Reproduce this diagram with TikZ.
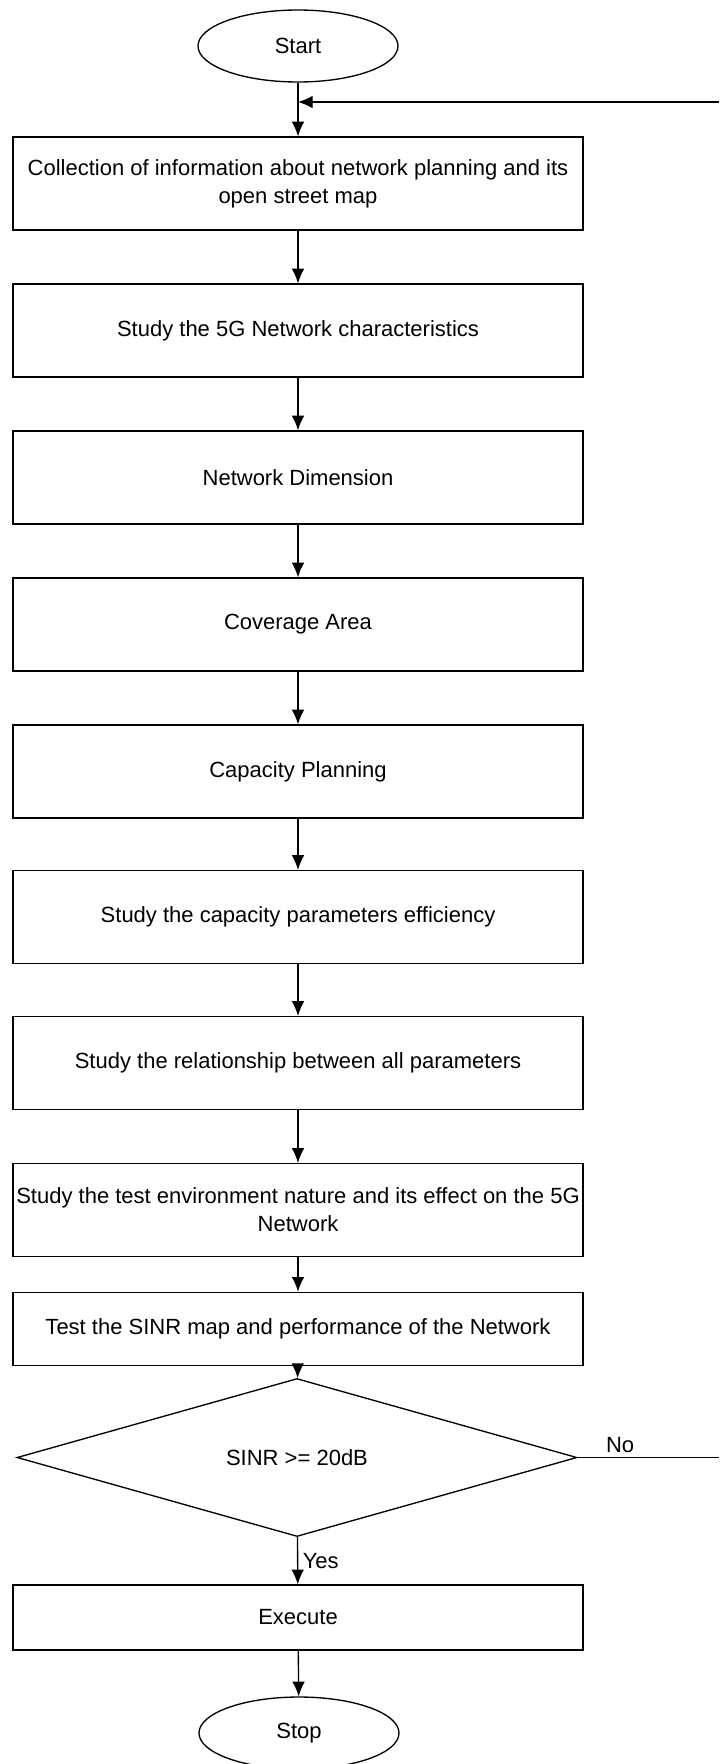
\documentclass[tikz,border=0pt]{standalone}
\usepackage{fontspec}
\setmainfont{Liberation Sans}
\usetikzlibrary{shapes.geometric,arrows.meta}

\tikzset{
  box/.style={draw, line width=1pt, minimum width=427.5pt, minimum height=69.75pt, inner sep=0pt, align=center},
  lowbox/.style={box, minimum height=55pt},
  terminal/.style={draw, ellipse, line width=1pt, minimum width=150pt, minimum height=54pt, inner sep=0pt},
  decision/.style={draw, diamond, line width=1pt, minimum width=420pt, minimum height=81.75pt, inner sep=0pt},
  arr/.style={-{Latex[length=11pt,width=9.5pt]}, line width=1pt},
}

\begin{document}
\begin{tikzpicture}[x=0.75pt,y=-0.75pt,font=\fontsize{16.5}{21}\selectfont]
\useasboundingbox (0,0) rectangle (719,1764);

% Start and planning steps
\node[terminal] (start) at (298,46) {Start};
\node[box] (info) at (298,183.5) {Collection of information about network planning and its\\open street map};
\node[box] (study) at (298,330.5) {Study the 5G Network characteristics};
\node[box] (dim) at (298,477.5) {Network Dimension};
\node[box] (cov) at (298,624.5) {Coverage Area};
\node[box] (cap) at (298,771.5) {Capacity Planning};
\node[box] (eff) at (298,917) {Study the capacity parameters efficiency};
\node[box] (rel) at (298,1063) {Study the relationship between all parameters};
\node[box] (env) at (298,1210) {Study the test environment nature and its effect on the 5G\\Network};
\node[lowbox] (sinr) at (298,1329) {Test the SINR map and performance of the Network};

% Decision and end
\node[decision] (check) at (297,1457.5) {SINR >= 20dB};
\node[lowbox, minimum height=48.75pt] (exec) at (298,1617.5) {Execute};
\node[terminal] (stop) at (299,1733) {Stop};

% Flow
\draw[arr] (start) -- (info);
\draw[arr] (info) -- (study);
\draw[arr] (study) -- (dim);
\draw[arr] (dim) -- (cov);
\draw[arr] (cov) -- (cap);
\draw[arr] (cap) -- (eff);
\draw[arr] (eff) -- (rel);
\draw[arr] (rel) -- (env);
\draw[arr] (env) -- (sinr);
\draw[arr] (sinr) -- (check);
\draw[arr] (check) -- node[right] {Yes} (exec);
\draw[arr] (exec) -- (stop);

% Loop back
\coordinate (back) at (719,102);
\draw[arr] (back) -- (back -| start);
\draw[line width=1pt] (check.east) -- (check.east -| back) node[pos=0.3, above] {No};

\end{tikzpicture}
\end{document}
